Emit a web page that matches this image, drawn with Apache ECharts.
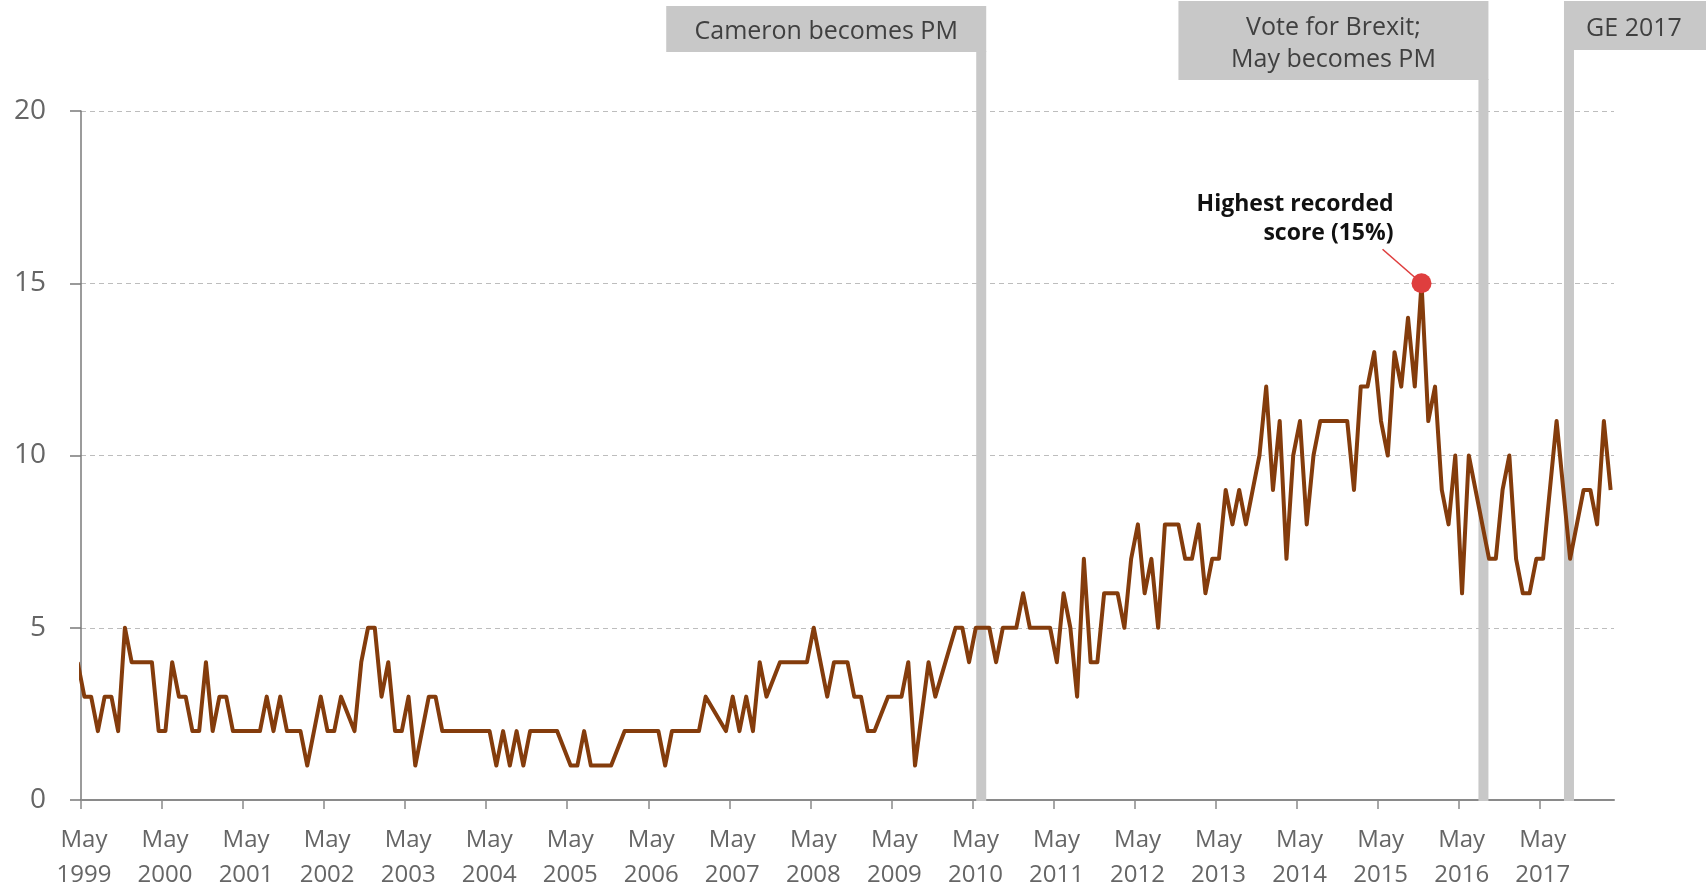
<!DOCTYPE html>
<html><head><meta charset="utf-8">
<script src="https://cdn.jsdelivr.net/npm/echarts@6/dist/echarts.min.js"></script>
<style>html,body{margin:0;padding:0;background:#fff}#c{width:1706px;height:889px}</style>
</head><body><div id="c"></div>
<script>
// ---- data ----
const months = [
'1999-04','1999-05','1999-06','1999-07','1999-08','1999-09','1999-10','1999-11','1999-12',
'2000-01','2000-02','2000-03','2000-04','2000-05','2000-06','2000-07','2000-08','2000-09','2000-10','2000-11','2000-12',
'2001-01','2001-02','2001-03','2001-04','2001-05','2001-06','2001-07','2001-08','2001-09','2001-10','2001-11','2001-12',
'2002-01','2002-02','2002-04','2002-05','2002-06','2002-07','2002-09','2002-10','2002-11','2002-12',
'2003-01','2003-02','2003-03','2003-04','2003-05','2003-06','2003-08','2003-09','2003-10','2003-11','2003-12',
'2004-01','2004-02','2004-03','2004-04','2004-05','2004-06','2004-07','2004-08','2004-09','2004-10','2004-11','2004-12',
'2005-01','2005-02','2005-03','2005-05','2005-06','2005-07','2005-08','2005-09','2005-10','2005-11',
'2006-01','2006-02','2006-03','2006-04','2006-05','2006-06','2006-07','2006-08','2006-09','2006-10','2006-11','2006-12',
'2007-01','2007-04','2007-05','2007-06','2007-07','2007-08','2007-09','2007-10','2007-12',
'2008-01','2008-02','2008-03','2008-04','2008-05','2008-07','2008-08','2008-09','2008-10','2008-11','2008-12',
'2009-01','2009-02','2009-04','2009-05','2009-06','2009-07','2009-08','2009-10','2009-11',
'2010-02','2010-03','2010-04','2010-05','2010-06','2010-07','2010-08','2010-09','2010-10','2010-11','2010-12',
'2011-01','2011-02','2011-03','2011-04','2011-05','2011-06','2011-07','2011-08','2011-09','2011-10','2011-11','2011-12',
'2012-01','2012-02','2012-03','2012-04','2012-05','2012-06','2012-07','2012-08','2012-09','2012-10','2012-11','2012-12',
'2013-01','2013-02','2013-03','2013-04','2013-05','2013-06','2013-07','2013-08','2013-09','2013-10','2013-11','2013-12',
'2014-01','2014-02','2014-03','2014-04','2014-05','2014-06','2014-07','2014-08','2014-09','2014-10','2014-11','2014-12',
'2015-01','2015-02','2015-03','2015-04','2015-05','2015-06','2015-07','2015-08','2015-09','2015-10','2015-11','2015-12',
'2016-01','2016-02','2016-03','2016-04','2016-05','2016-06','2016-09','2016-10','2016-11','2016-12',
'2017-01','2017-02','2017-03','2017-04','2017-05','2017-07','2017-09','2017-11','2017-12',
'2018-01','2018-02','2018-03'
];
const values = [
4,3,3,2,3,3,2,5,4,
4,4,4,2,2,4,3,3,2,2,4,2,
3,3,2,2,2,2,2,3,2,3,2,2,
2,1,3,2,2,3,2,4,5,5,
3,4,2,2,3,1,3,3,2,2,2,
2,2,2,2,2,1,2,1,2,1,2,2,
2,2,2,1,1,2,1,1,1,1,
2,2,2,2,2,2,1,2,2,2,2,2,
3,2,3,2,3,2,4,3,4,
4,4,4,4,5,3,4,4,4,3,3,
2,2,3,3,3,4,1,4,3,
5,5,4,5,5,5,4,5,5,5,6,
5,5,5,5,4,6,5,3,7,4,4,6,
6,6,5,7,8,6,7,5,8,8,8,7,
7,8,6,7,7,9,8,9,8,9,10,12,
9,11,7,10,11,8,10,11,11,11,11,11,
9,12,12,13,11,10,13,12,14,12,15,11,
12,9,8,10,6,10,7,7,9,10,
7,6,6,7,7,11,7,9,9,
8,11,9
];
const axisStart = '1999-05';
const axisEnd = '2018-04';
const tickYears = [1999,2000,2001,2002,2003,2004,2005,2006,2007,2008,2009,2010,2011,2012,2013,2014,2015,2016,2017];
const tickMonthName = 'May';
const yTicks = [0,5,10,15,20];
const eventLabels = ['Cameron becomes PM', 'Vote for Brexit;\nMay becomes PM', 'GE 2017'];
const eventDates = ['2010-06-10', '2016-08-21', '2017-09-11'];
const peakNote = 'Highest recorded\nscore (15%)';

// ---- helpers ----
function monthIndex(s){ const p = s.split('-').map(Number); const a = axisStart.split('-').map(Number); return (p[0]-a[0])*12 + (p[1]-a[1]); }
function datePos(s){ const p = s.split('-').map(Number); return monthIndex(p[0]+'-'+p[1]) + (p[2]-1)/30; }

const seriesData = months.map((m,i)=>[monthIndex(m)+0.5, values[i]]);
const xTickValues = tickYears.map(y => monthIndex(y + '-05'));
let peakIdx = 0; values.forEach((v,i)=>{ if (v > values[peakIdx]) peakIdx = i; });
const peakPoint = seriesData[peakIdx];

const chart = echarts.init(document.getElementById('c'), null, {renderer:'canvas'});
const FONT = '"Open Sans", "Noto Sans", sans-serif';
chart.setOption({
  animation: false,
  backgroundColor: '#ffffff',
  grid: {left: 81, right: 92, top: 111, bottom: 89, containLabel: false, outerBoundsMode: 'none'},
  xAxis: {
    type: 'value', min: 0, max: monthIndex(axisEnd), interval: 12,
    axisLine: {show: true, onZero: false, lineStyle: {color: '#8a8a8a', width: 2}},
    axisTick: {show: true, length: 9, customValues: xTickValues, lineStyle: {color: '#8a8a8a', width: 1.5}},
    axisLabel: {
      customValues: xTickValues,
      formatter: v => tickMonthName + '\n' + tickYears[Math.round(v/12)],
      color: '#666666', fontSize: 24, fontFamily: FONT, lineHeight: 35, margin: 23,
      padding: [0,0,0,6]
    },
    splitLine: {show: false}
  },
  yAxis: {
    type: 'value', min: yTicks[0], max: yTicks[yTicks.length-1], interval: 5,
    axisLine: {show: true, lineStyle: {color: '#7a7a7a', width: 1.5}},
    axisTick: {show: true, length: 11, lineStyle: {color: '#7a7a7a', width: 1.5}},
    axisLabel: {color: '#666666', fontSize: 28, fontFamily: FONT, margin: 35},
    splitLine: {show: true, lineStyle: {color: '#bdbdbd', width: 1, type: [5,4]}}
  },
  series: [
    {type: 'line', data: seriesData, symbol: 'none', showSymbol: false, clip: true, z: 3,
     lineStyle: {color: '#843c0c', width: 4, join: 'round', cap: 'butt'}},
    {type: 'scatter', data: [peakPoint], symbolSize: 20, z: 6, itemStyle: {color: '#df3e3e', opacity: 1}}
  ]
});

// ---- annotations placed through the axis scales ----
const boxLayout = [
  {anchor: 'right', width: 320, top: 6, height: 46},
  {anchor: 'right', width: 310, top: 1, height: 79},
  {anchor: 'left', width: 150, top: 1, height: 49}
];
const BAR_W = 10;
const graphics = [];
const y0 = chart.convertToPixel({yAxisIndex: 0}, 0);
eventDates.forEach((d, i) => {
  const px = chart.convertToPixel({xAxisIndex: 0}, datePos(d));
  const L = boxLayout[i];
  const boxLeft = L.anchor === 'right' ? px + BAR_W/2 - L.width : px - BAR_W/2;
  graphics.push({type: 'rect', z: 1, silent: true,
    shape: {x: px - BAR_W/2, y: L.top + L.height - 1, width: BAR_W, height: y0 - (L.top + L.height) + 2},
    style: {fill: '#c8c8c8'}});
  graphics.push({type: 'rect', z: 1, silent: true,
    shape: {x: boxLeft, y: L.top, width: L.width, height: L.height},
    style: {fill: '#c8c8c8'}});
  const tx = L.anchor === 'left' ? boxLeft + 70 : boxLeft + L.width/2;
  graphics.push({type: 'text', z: 2, silent: true, x: tx, y: L.top + L.height/2 + 3,
    style: {text: eventLabels[i], fill: '#404040', font: '25px ' + FONT, align: 'center', verticalAlign: 'middle', lineHeight: 32}});
});
const pk = chart.convertToPixel({gridIndex: 0}, peakPoint);
graphics.push({type: 'line', z: 5, silent: true,
  shape: {x1: pk[0] - 39, y1: pk[1] - 34, x2: pk[0], y2: pk[1]},
  style: {stroke: '#df3e3e', lineWidth: 1.6}});
graphics.push({type: 'text', z: 5, silent: true, x: pk[0] - 28, y: pk[1] - 93,
  style: {text: peakNote, fill: '#111111', font: 'bold 23px ' + FONT, align: 'right', verticalAlign: 'top', lineHeight: 29}});
chart.setOption({graphic: {elements: graphics}});
</script>
</body></html>
